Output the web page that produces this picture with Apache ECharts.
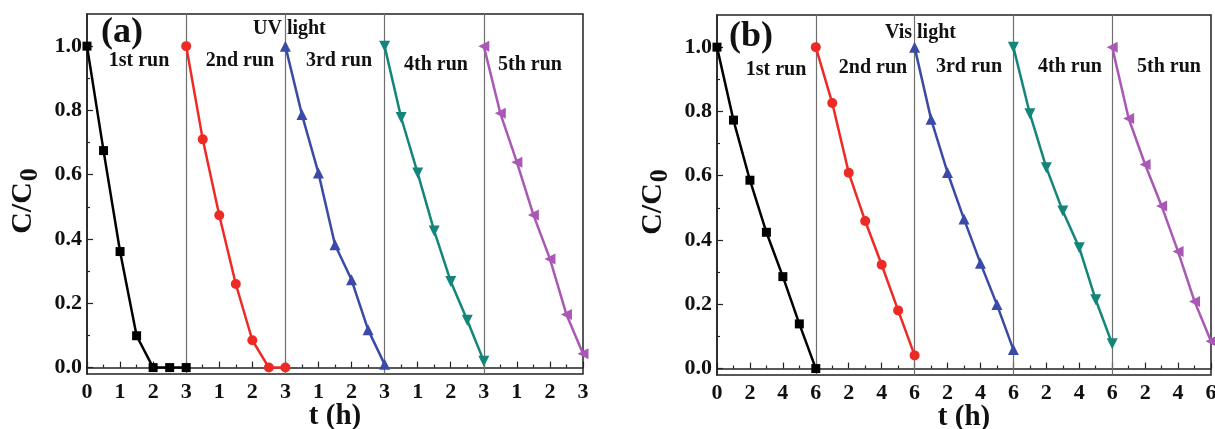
<!DOCTYPE html>
<html>
<head>
<meta charset="utf-8">
<script src="https://cdn.jsdelivr.net/npm/echarts@6/dist/echarts.min.js"></script>
<style>
html,body{margin:0;padding:0;background:#fff;}
#chart{width:1215px;height:429px;}
</style>
</head>
<body>
<div id="chart"></div>
<script>
// ---- data ----
const uvTimes = [0, 0.5, 1, 1.5, 2, 2.5, 3];          // h, within each run
const uvRun1 = [1.0, 0.675, 0.361, 0.099, 0.0, 0.0, 0.0];
const uvRun2 = [1.0, 0.710, 0.474, 0.260, 0.085, 0.0, 0.0];
const uvRun3 = [1.0, 0.787, 0.605, 0.382, 0.273, 0.118, 0.010];
const uvRun4 = [1.0, 0.778, 0.605, 0.425, 0.268, 0.147, 0.020];
const uvRun5 = [1.0, 0.791, 0.639, 0.475, 0.338, 0.165, 0.043];

const visTimes = [0, 1, 2, 3, 4, 5, 6];               // h, within each run
const visRun1 = [1.0, 0.773, 0.586, 0.424, 0.286, 0.139, 0.0];
const visRun2 = [1.0, 0.826, 0.609, 0.459, 0.323, 0.181, 0.041];
const visRun3 = [1.0, 0.776, 0.610, 0.465, 0.328, 0.199, 0.059];
const visRun4 = [1.0, 0.793, 0.625, 0.490, 0.376, 0.214, 0.077];
const visRun5 = [1.0, 0.778, 0.635, 0.506, 0.364, 0.209, 0.085];

const runNames = ['1st run', '2nd run', '3rd run', '4th run', '5th run'];
const yTickLabels = [0, 0.2, 0.4, 0.6, 0.8, 1.0];
const yMinorTicks = [0.1, 0.3, 0.5, 0.7, 0.9];
const uvRunLength = 3;
const visRunLength = 6;

// ---- styles ----
const colors = ['#000000', '#ee2a24', '#3a4aa6', '#13857a', '#a958b4'];
const symbols = ['rect', 'circle', 'triangle', 'triangle', 'triangle'];
const symbolRotates = [0, 0, 0, 180, 90];
const symbolSizes = [9, 10, 11, 11, 11];
const FONT = 'Liberation Serif';

const chart = echarts.init(document.getElementById('chart'));

function buildSeries(times, runs, runLen, axisIdx) {
  return runs.map((vals, i) => {
    const s = {
      type: 'line',
      xAxisIndex: axisIdx,
      yAxisIndex: axisIdx * 2,
      data: vals.map((v, k) => [i * runLen + times[k], v]),
      symbol: symbols[i],
      symbolRotate: symbolRotates[i],
      symbolSize: symbolSizes[i],
      showAllSymbol: true,
      clip: false,
      lineStyle: { color: colors[i], width: 2.5 },
      itemStyle: { color: colors[i] },
      z: 3,
      animation: false
    };
    if (i === 0) {
      s.markLine = {
        silent: true,
        symbol: 'none',
        label: { show: false },
        lineStyle: { color: '#6e6e6e', width: 1.2, type: 'solid' },
        data: [1, 2, 3, 4].map(r => ({ xAxis: r * runLen })),
        animation: false,
        z: 1
      };
    }
    return s;
  });
}

function xAxisFor(gridIdx, runLen, step) {
  return {
    type: 'value', gridIndex: gridIdx, min: 0, max: runLen * 5, interval: step,
    name: 't (h)', nameLocation: 'middle', nameGap: 28,
    nameMoveOverlap: false,
    nameTextStyle: { fontFamily: FONT, fontWeight: 'bold', fontSize: 29, color: '#111' },
    axisLine: { show: true, lineStyle: { color: '#222', width: 1.5 } },
    axisTick: { show: true, inside: true, length: 6, lineStyle: { color: '#222', width: 1.2 } },
    minorTick: { show: true, splitNumber: 2, length: 3, lineStyle: { color: '#222', width: 1.2 } },
    splitLine: { show: false },
    axisLabel: {
      fontFamily: FONT, fontWeight: 'bold', fontSize: 22, color: '#111', margin: 7,
      formatter: v => v === 0 ? '0' : String(((v - step) % runLen) + step)
    }
  };
}

function yAxesFor(gridIdx) {
  return [{
    type: 'value', gridIndex: gridIdx, min: -0.02, max: 1.1,
    name: '{m|C/C}{s|0}', nameLocation: 'middle', nameGap: 44,
    nameMoveOverlap: false,
    nameTextStyle: {
      fontFamily: FONT, fontWeight: 'bold', fontSize: 30, color: '#111',
      padding: [0, 14, 0, 0],
      rich: {
        m: { fontFamily: FONT, fontWeight: 'bold', fontSize: 30, color: '#111', lineHeight: 40, verticalAlign: 'middle' },
        s: { fontFamily: FONT, fontWeight: 'bold', fontSize: 26, color: '#111', lineHeight: 40, verticalAlign: 'bottom', padding: [0, 0, 0, 1] }
      }
    },
    axisLine: { show: true, lineStyle: { color: '#222', width: 1.5 } },
    axisTick: { show: true, inside: true, length: 6, customValues: yTickLabels, lineStyle: { color: '#222', width: 1.2 } },
    splitLine: { show: false },
    axisLabel: {
      customValues: yTickLabels,
      fontFamily: FONT, fontWeight: 'bold', fontSize: 22, color: '#111', margin: 5,
      formatter: v => v.toFixed(1)
    }
  }, {
    type: 'value', gridIndex: gridIdx, min: -0.02, max: 1.1, position: 'left',
    axisLine: { show: false },
    axisTick: { show: true, inside: true, length: 3, customValues: yMinorTicks, lineStyle: { color: '#222', width: 1.2 } },
    axisLabel: { show: false },
    splitLine: { show: false }
  }];
}

const textStyle = (t, x, y, size) => ({
  type: 'text', x: x, y: y, z: 10,
  style: { text: t, fontFamily: FONT, fontWeight: 'bold', fontSize: size, fill: '#111', textAlign: 'center', textVerticalAlign: 'middle' }
});

const uvLabelPos = [[139, 61], [240, 61], [339, 61], [436, 65], [530, 65]];
const visLabelPos = [[776, 70], [873, 68], [969, 67], [1070, 67], [1169, 67]];

const graphics = [
  textStyle('(a)', 122, 33, 36),
  textStyle('(b)', 751, 37, 36),
  { type: 'text', x: 253, y: 29, z: 10, style: { text: 'UV light', fontFamily: FONT, fontWeight: 'bold', fontSize: 20, fill: '#111', textAlign: 'left', textVerticalAlign: 'middle' } },
  { type: 'text', x: 885, y: 33, z: 10, style: { text: 'Vis light', fontFamily: FONT, fontWeight: 'bold', fontSize: 20, fill: '#111', textAlign: 'left', textVerticalAlign: 'middle' } }
].concat(runNames.map((n, i) => textStyle(n, uvLabelPos[i][0], uvLabelPos[i][1], 20)))
 .concat(runNames.map((n, i) => textStyle(n, visLabelPos[i][0], visLabelPos[i][1], 20)));

chart.setOption({
  animation: false,
  backgroundColor: '#fff',
  grid: [
    { left: 87, top: 14, width: 496, height: 360, outerBoundsMode: 'none', containLabel: false, show: true, borderColor: '#222', borderWidth: 1.5, backgroundColor: 'transparent' },
    { left: 717, top: 15, width: 494, height: 360, outerBoundsMode: 'none', containLabel: false, show: true, borderColor: '#222', borderWidth: 1.5, backgroundColor: 'transparent' }
  ],
  xAxis: [xAxisFor(0, uvRunLength, 1), xAxisFor(1, visRunLength, 2)],
  yAxis: yAxesFor(0).concat(yAxesFor(1)),
  series: buildSeries(uvTimes, [uvRun1, uvRun2, uvRun3, uvRun4, uvRun5], uvRunLength, 0)
    .concat(buildSeries(visTimes, [visRun1, visRun2, visRun3, visRun4, visRun5], visRunLength, 1)),
  graphic: graphics
});
</script>
</body>
</html>
